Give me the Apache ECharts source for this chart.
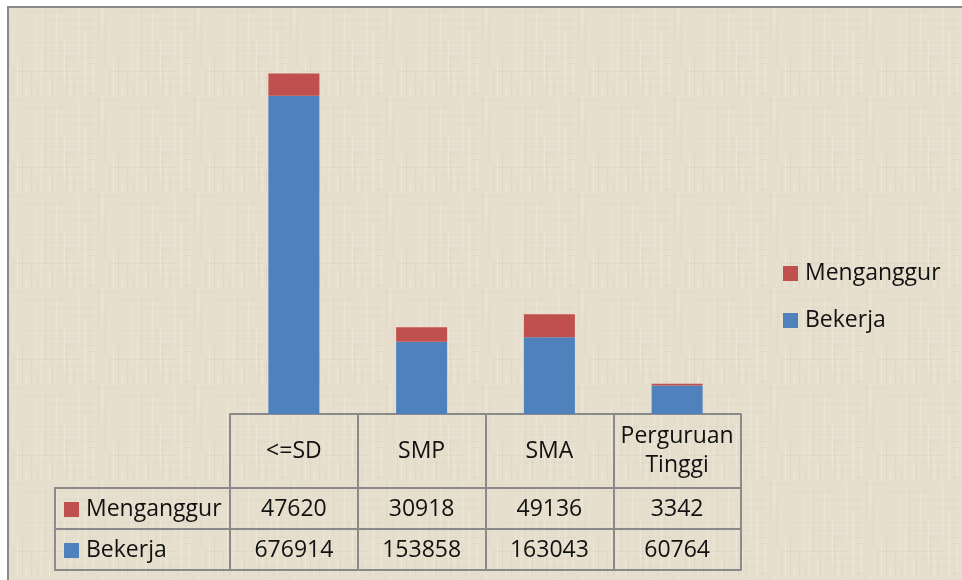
<!DOCTYPE html>
<html>
<head>
<meta charset="utf-8">
<script src="https://cdn.jsdelivr.net/npm/echarts@6/dist/echarts.min.js"></script>
<style>
  html, body { margin: 0; padding: 0; background: #fff; }
  #view1 { width: 962px; height: 580px; }
</style>
</head>
<body>
<div id="view1"></div>
<script>
var categories = ["<=SD", "SMP", "SMA", "Perguruan\nTinggi"];
var menganggur = [47620, 30918, 49136, 3342];
var bekerja = [676914, 153858, 163043, 60764];

var fontName = "Open Sans";
var lineColor = "#8a8a8a";

// paper-like texture for the chart area
var tex = document.createElement("canvas");
tex.width = 96;
tex.height = 96;
var c = tex.getContext("2d");
c.fillStyle = "#e6dfcd";
c.fillRect(0, 0, 96, 96);
c.fillStyle = "rgba(150,135,105,0.07)";
var cols = [2, 9, 13, 22, 31, 37, 45, 52, 60, 66, 74, 81, 89];
var rows = [4, 11, 19, 27, 33, 42, 50, 57, 63, 71, 78, 86, 93];
cols.forEach(function (x, k) { c.fillRect(x, (k * 17) % 96, 1, 40 + (k * 13) % 50); });
rows.forEach(function (y, k) { c.fillRect((k * 23) % 96, y, 30 + (k * 11) % 60, 1); });
c.fillStyle = "rgba(255,255,255,0.25)";
cols.forEach(function (x, k) { c.fillRect((x + 4) % 96, (k * 29) % 96, 1, 30 + (k * 7) % 40); });

var tableFont = { fontFamily: fontName, fontSize: 23, color: "#111" };

var option = {
  backgroundColor: "#fff",
  animation: false,
  textStyle: { fontFamily: fontName },
  grid: [{
    left: 230,
    right: 221,
    top: 38,
    bottom: 166
  }],
  legend: [{
    data: ["Menganggur", "Bekerja"],
    orient: "vertical",
    left: 778,
    top: 257,
    itemWidth: 15,
    itemHeight: 15,
    itemGap: 24,
    icon: "rect",
    textStyle: { fontFamily: fontName, fontSize: 23, color: "#111", padding: [0, 0, 0, 2] }
  }, {
    // key column of the data table
    data: ["Menganggur", "Bekerja"],
    orient: "vertical",
    left: 59,
    top: 493,
    itemWidth: 15,
    itemHeight: 15,
    itemGap: 18,
    icon: "rect",
    selectedMode: false,
    textStyle: { fontFamily: fontName, fontSize: 23, color: "#111", padding: [0, 0, 0, 2] }
  }],
  xAxis: [{
    type: "category",
    data: categories,
    position: "bottom",
    axisLine: { lineStyle: { color: lineColor, width: 2 } },
    axisTick: { show: true, inside: false, length: 156, lineStyle: { color: lineColor, width: 2 } },
    axisLabel: Object.assign({ margin: 37, verticalAlign: "middle", lineHeight: 29, interval: 0 }, tableFont)
  },
  {
    type: "category",
    data: categories,
    position: "bottom",
    offset: 74,
    axisLine: { lineStyle: { color: lineColor, width: 2 } },
    axisTick: { show: false },
    axisLabel: Object.assign({
      margin: 21, verticalAlign: "middle", interval: 0,
      formatter: function (v, i) { return String(menganggur[i]); }
    }, tableFont)
  },
  {
    type: "category",
    data: categories,
    position: "bottom",
    offset: 115,
    axisLine: { lineStyle: { color: lineColor, width: 2 } },
    axisTick: { show: false },
    axisLabel: Object.assign({
      margin: 21, verticalAlign: "middle", interval: 0,
      formatter: function (v, i) { return String(bekerja[i]); }
    }, tableFont)
  },
  {
    type: "category",
    data: categories,
    position: "bottom",
    offset: 156,
    axisLine: { lineStyle: { color: lineColor, width: 2 } },
    axisTick: { show: false },
    axisLabel: { show: false }
  }
  ],
  yAxis: [{
    type: "value",
    min: 0,
    max: 800000,
    show: false,
    splitLine: { show: false }
  }],
  graphic: [{
    type: "rect",
    z: -10,
    silent: true,
    shape: { x: 8, y: 7, width: 970, height: 600 },
    style: { fill: { image: tex, repeat: "repeat" }, stroke: lineColor, lineWidth: 2 }
  }, {
    type: "polyline",
    silent: true,
    shape: { points: [[230, 488], [55, 488], [55, 570], [230, 570]] },
    style: { fill: null, stroke: lineColor, lineWidth: 2 }
  }, {
    type: "line",
    silent: true,
    shape: { x1: 55, y1: 529, x2: 230, y2: 529 },
    style: { stroke: lineColor, lineWidth: 2 }
  }],
  series: [
    {
      name: "Bekerja",
      type: "bar",
      stack: "total",
      barWidth: 51,
      data: bekerja,
      color: "#4f81bd"
    }, {
      name: "Menganggur",
      type: "bar",
      stack: "total",
      barWidth: 51,
      data: menganggur,
      color: "#c0504d"
    }
  ]
};

echarts.init(document.getElementById("view1")).setOption(option);
</script>
</body>
</html>
